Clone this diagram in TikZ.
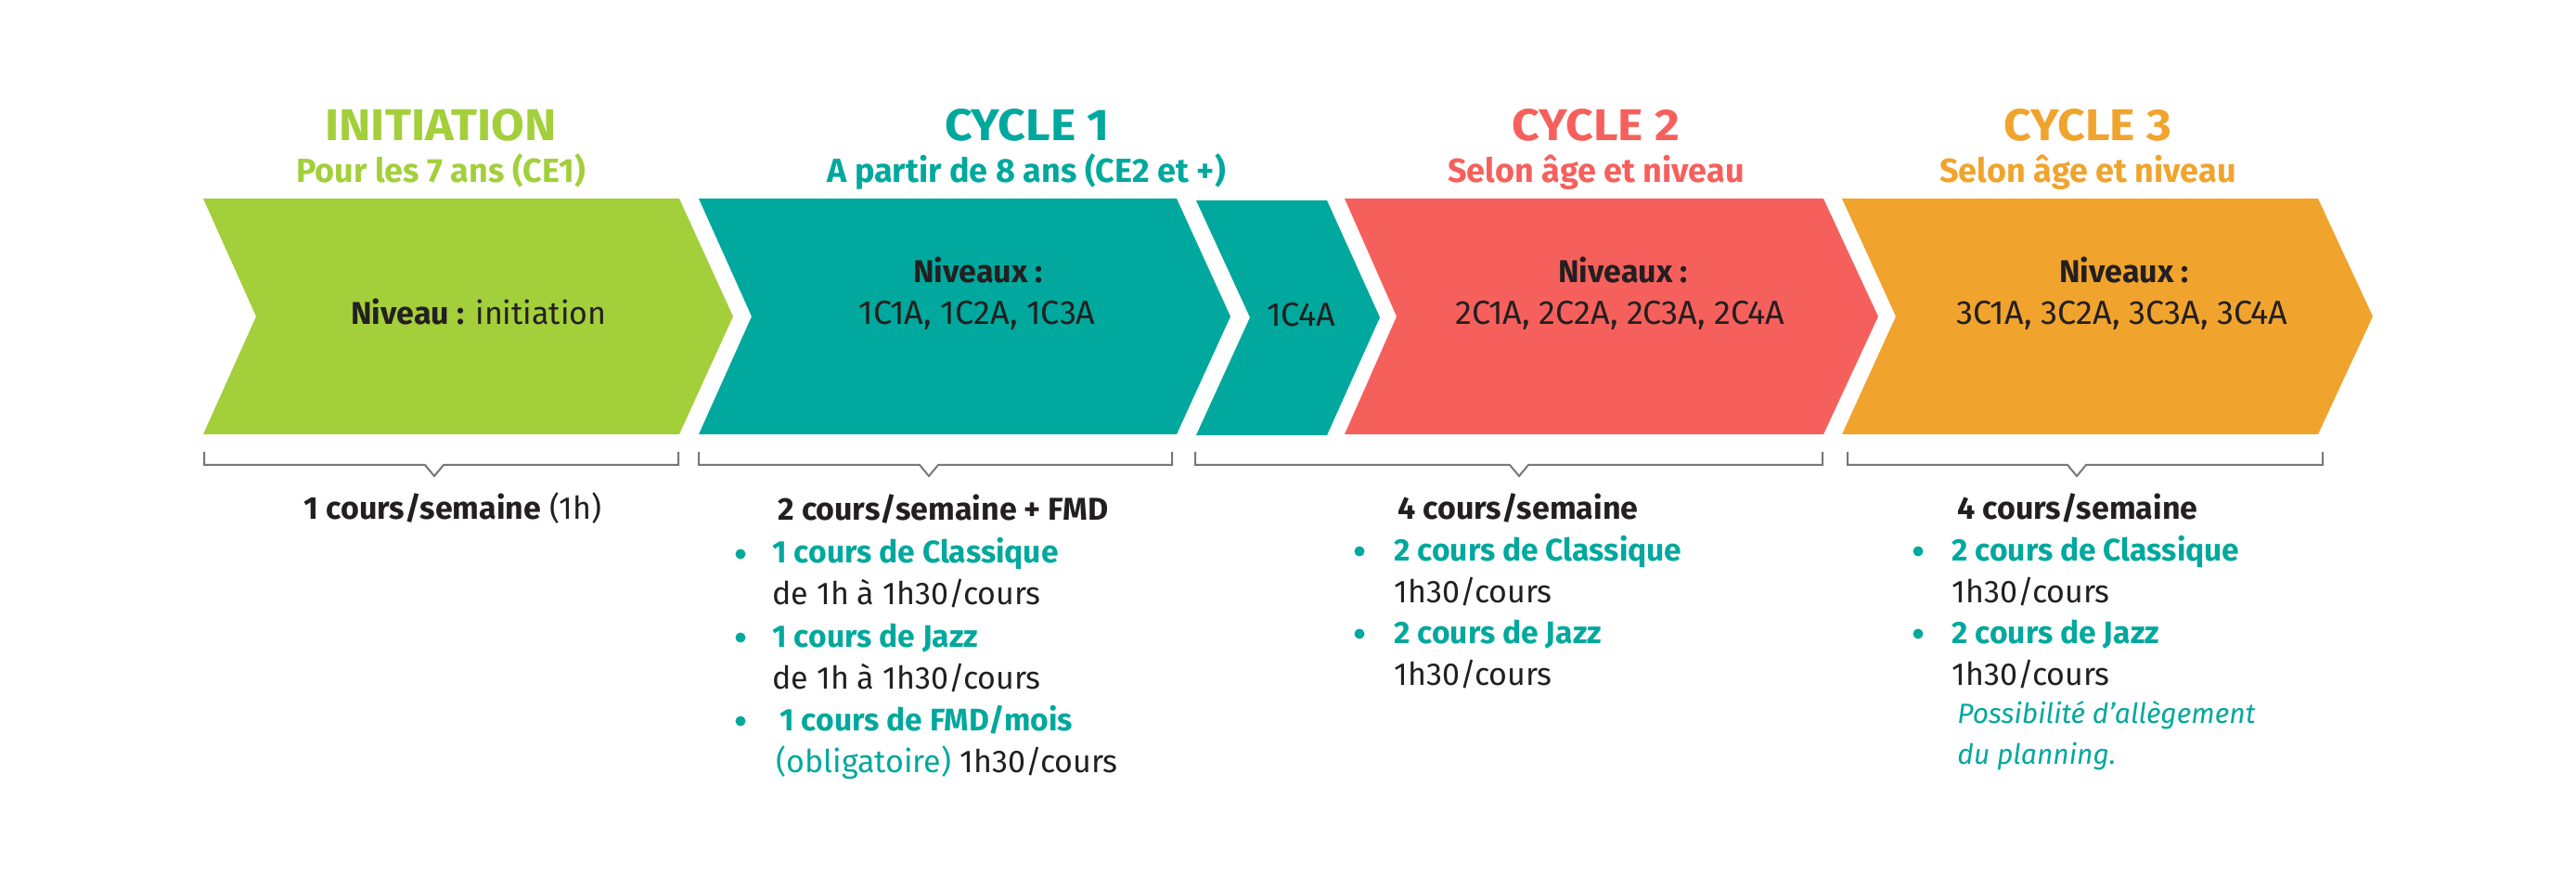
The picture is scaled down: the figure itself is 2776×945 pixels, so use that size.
\documentclass[tikz,border=0pt]{standalone}
\usepackage{fontspec}
\setmainfont{Fira Sans}
\newfontfamily\titlefont[FakeStretch=1.08]{Fira Sans}
\definecolor{cgreen}{HTML}{A3CF3B}
\definecolor{cteal}{HTML}{00A89D}
\definecolor{cred}{HTML}{F6605C}
\definecolor{corange}{HTML}{F0A42D}
\definecolor{cdark}{HTML}{231F20}
\definecolor{cgray}{HTML}{777777}
\tikzset{
  ttl/.style={font=\titlefont\fontsize{24}{28}\selectfont\bfseries, inner sep=0pt, anchor=base},
  subttl/.style={font=\fontsize{18}{21}\selectfont\bfseries, inner sep=0pt, anchor=base},
  inner/.style={font=\fontsize{17}{20}\selectfont, text=cdark, inner sep=0pt, anchor=base},
  codes/.style={font=\fontsize{18}{21}\selectfont, text=cdark, inner sep=0pt, anchor=base},
  body/.style={font=\fontsize{17}{20}\selectfont, text=cdark, inner sep=0pt, anchor=base west},
  item/.style={font=\fontsize{16.8}{20}\selectfont\bfseries, text=cteal, inner sep=0pt, anchor=base west},
  bul/.style={circle, fill=cteal, inner sep=0pt, minimum size=5.5pt},
  note/.style={font=\fontsize{15}{18}\selectfont\itshape, text=cteal, inner sep=0pt, anchor=base west},
  bracket/.style={draw=cgray, line width=1pt},
}
\begin{document}
\begin{tikzpicture}[x=0.5pt,y=-0.5pt]
\useasboundingbox (0,0) rectangle (2776,945);
\fill[white] (0,0) rectangle (2776,945);

% chevrons
\fill[cgreen]  (219,214) -- (732,214) -- (790,341) -- (732,468) -- (219,468) -- (276,341) -- cycle;
\fill[cteal]   (753,214) -- (1268,214) -- (1326,341) -- (1268,468) -- (753,468) -- (810,341) -- cycle;
\fill[cteal]   (1289,216) -- (1430,216) -- (1487,342) -- (1430,469) -- (1289,469) -- (1347,342) -- cycle;
\fill[cred]    (1449,214) -- (1965,214) -- (2024,341) -- (1965,468) -- (1449,468) -- (1505,341) -- cycle;
\fill[corange] (1985,214) -- (2498,214) -- (2557,341) -- (2498,468) -- (1985,468) -- (2043,341) -- cycle;

% titles
\node[ttl, text=cgreen] (t0) at (475,152) {INITIATION};
\node[subttl, text=cgreen] (s0) at (475,197) {Pour les 7 ans (CE1)};
\node[ttl, text=cteal] (t1) at (1107,152) {CYCLE 1};
\node[subttl, text=cteal] (s1) at (1106,197) {A partir de 8 ans (CE2 et +)};
\node[ttl, text=cred] (t2) at (1720,152) {CYCLE 2};
\node[subttl, text=cred] (s2) at (1720,197) {Selon âge et niveau};
\node[ttl, text=corange] (t3) at (2250,152) {CYCLE 3};
\node[subttl, text=corange] (s3) at (2250,197) {Selon âge et niveau};

% inner texts
\node[inner] (i0) at (516,350) {\textbf{Niveau :} initiation};
\node[inner] (i1a) at (1054,305) {\textbf{Niveaux :}};
\node[codes] (i1b) at (1053,350) {1C1A, 1C2A, 1C3A};
\node[codes] (i1c) at (1402,352) {1C4A};
\node[inner] (i2a) at (1749,305) {\textbf{Niveaux :}};
\node[codes] (i2b) at (1746,350) {2C1A, 2C2A, 2C3A, 2C4A};
\node[inner] (i3a) at (2289,305) {\textbf{Niveaux :}};
\node[codes] (i3b) at (2287,350) {3C1A, 3C2A, 3C3A, 3C4A};

% brackets
\draw[bracket] (220,487) -- (220,501) -- (458,501) -- (468,513) -- (478,501) -- (731,501) -- (731,487);
\draw[bracket] (753,487) -- (753,501) -- (991,501) -- (1001,513) -- (1011,501) -- (1263,501) -- (1263,487);
\draw[bracket] (1288,487) -- (1288,501) -- (1627,501) -- (1637,513) -- (1647,501) -- (1964,501) -- (1964,487);
\draw[bracket] (1991,487) -- (1991,501) -- (2228,501) -- (2238,513) -- (2248,501) -- (2503,501) -- (2503,487);

% bottom: initiation
\node[inner] (b0) at (488,560) {\textbf{1 cours/semaine} (1h)};

% bottom: cycle 1
\node[body] (b1) at (838,561) {\textbf{2 cours/semaine + FMD}};
\node[bul] (b1p1) at (798,597) {};
\node[item] (b1i1) at (832,607) {1 cours de Classique};
\node[body] (b1d1) at (832,652) {de 1h à 1h30/cours};
\node[bul] (b1p2) at (798,687) {};
\node[item] (b1i2) at (832,697) {1 cours de Jazz};
\node[body] (b1d2) at (832,742) {de 1h à 1h30/cours};
\node[bul] (b1p3) at (798,777) {};
\node[item] (b1i3) at (840,787) {1 cours de FMD/mois};
\node[body] (b1d3) at (836,832) {\textcolor{cteal}{(obligatoire)} 1h30/cours};

% bottom: cycle 2
\node[body] (b2) at (1506,560) {\textbf{4 cours/semaine}};
\node[bul] (b2p1) at (1465,594) {};
\node[item] (b2i1) at (1502,604) {2 cours de Classique};
\node[body] (b2d1) at (1502,649) {1h30/cours};
\node[bul] (b2p2) at (1465,683) {};
\node[item] (b2i2) at (1502,693) {2 cours de Jazz};
\node[body] (b2d2) at (1502,738) {1h30/cours};

% bottom: cycle 3
\node[body] (b3) at (2109,560) {\textbf{4 cours/semaine}};
\node[bul] (b3p1) at (2067,594) {};
\node[item] (b3i1) at (2103,604) {2 cours de Classique};
\node[body] (b3d1) at (2103,649) {1h30/cours};
\node[bul] (b3p2) at (2067,683) {};
\node[item] (b3i2) at (2103,693) {2 cours de Jazz};
\node[body] (b3d2) at (2103,738) {1h30/cours};
\node[note] (b3n1) at (2109,779) {Possibilité d’allègement};
\node[note] (b3n2) at (2109,823) {du planning.};
\end{tikzpicture}
\end{document}
